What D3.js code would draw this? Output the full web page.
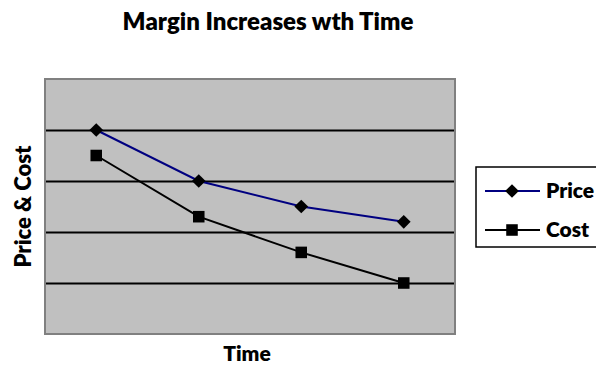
<!DOCTYPE html>
<html>
<head>
<meta charset="utf-8">
<script src="https://cdn.jsdelivr.net/npm/d3@7"></script>
<style>
  html, body { margin: 0; padding: 0; background: #fff; }
  svg { display: block; }
  text { font-family: Lato, "Open Sans", sans-serif; font-weight: 800; fill: #000; }
</style>
</head>
<body>
<svg id="chart" width="596" height="366"></svg>
<script>
// Periods along the time axis (unlabelled on the chart)
const periods = ["P1", "P2", "P3", "P4"];
// Series values, in the same units as the value axis
const priceValues = [4.0, 3.0, 2.5, 2.2];
const costValues  = [3.5, 2.3, 1.6, 1.0];
// Value axis range and gridline positions
const valueDomain = [0, 5];
const gridTicks = [1, 2, 3, 4];

const svg = d3.select("#chart");
const plot = { left: 45, top: 79, right: 455, bottom: 334 };

const x = d3.scalePoint()
  .domain(periods)
  .range([plot.left, plot.right])
  .padding(0.5);

const y = d3.scaleLinear()
  .domain(valueDomain)
  .range([plot.bottom, plot.top]);

// Plot area background
svg.append("rect")
  .attr("x", plot.left).attr("y", plot.top)
  .attr("width", plot.right - plot.left)
  .attr("height", plot.bottom - plot.top)
  .attr("fill", "#c0c0c0");

// Horizontal gridlines from the value axis
const grid = svg.append("g")
  .attr("transform", `translate(${plot.left},0)`)
  .call(d3.axisLeft(y).tickValues(gridTicks)
    .tickSize(-(plot.right - plot.left)).tickFormat(""));
grid.select(".domain").remove();
grid.selectAll(".tick line").attr("stroke", "#000").attr("stroke-width", 2);

// Plot area border
svg.append("rect")
  .attr("x", plot.left).attr("y", plot.top)
  .attr("width", plot.right - plot.left)
  .attr("height", plot.bottom - plot.top)
  .attr("fill", "none")
  .attr("stroke", "#808080")
  .attr("stroke-width", 2);

const series = [
  { name: "Price", values: priceValues, color: "#000080", symbol: d3.symbolDiamond2, size: 120 },
  { name: "Cost",  values: costValues,  color: "#000000", symbol: d3.symbolSquare2,  size: 170 }
];

const line = d3.line()
  .x((d, i) => x(periods[i]))
  .y(d => y(d));

series.forEach(s => {
  svg.append("path")
    .datum(s.values)
    .attr("d", line)
    .attr("fill", "none")
    .attr("stroke", s.color)
    .attr("stroke-width", 2);
});

series.forEach(s => {
  svg.append("g").selectAll("path")
    .data(s.values)
    .join("path")
    .attr("transform", (d, i) => `translate(${x(periods[i])},${y(d)})`)
    .attr("d", d3.symbol().type(s.symbol).size(s.size))
    .attr("fill", "#000");
});

// Chart title
svg.append("text")
  .attr("x", 268).attr("y", 30)
  .attr("text-anchor", "middle")
  .attr("font-size", 24)
  .text("Margin Increases wth Time");

// Axis titles
svg.append("text")
  .attr("x", 247).attr("y", 361)
  .attr("text-anchor", "middle")
  .attr("font-size", 21)
  .text("Time");

svg.append("text")
  .attr("transform", `translate(31,${(plot.top + plot.bottom) / 2}) rotate(-90)`)
  .attr("text-anchor", "middle")
  .attr("font-size", 22)
  .text("Price & Cost");

// Legend
const legend = svg.append("g");
legend.append("rect")
  .attr("x", 476).attr("y", 167)
  .attr("width", 140).attr("height", 80)
  .attr("fill", "#fff")
  .attr("stroke", "#000")
  .attr("stroke-width", 1.5);

series.forEach((s, i) => {
  const ly = 191 + i * 39;
  legend.append("line")
    .attr("x1", 485).attr("x2", 540)
    .attr("y1", ly).attr("y2", ly)
    .attr("stroke", s.color).attr("stroke-width", 2);
  legend.append("path")
    .attr("transform", `translate(512,${ly})`)
    .attr("d", d3.symbol().type(s.symbol).size(s.size))
    .attr("fill", "#000");
  legend.append("text")
    .attr("x", 546).attr("y", ly + 7)
    .attr("font-size", 21)
    .text(s.name);
});
</script>
</body>
</html>
